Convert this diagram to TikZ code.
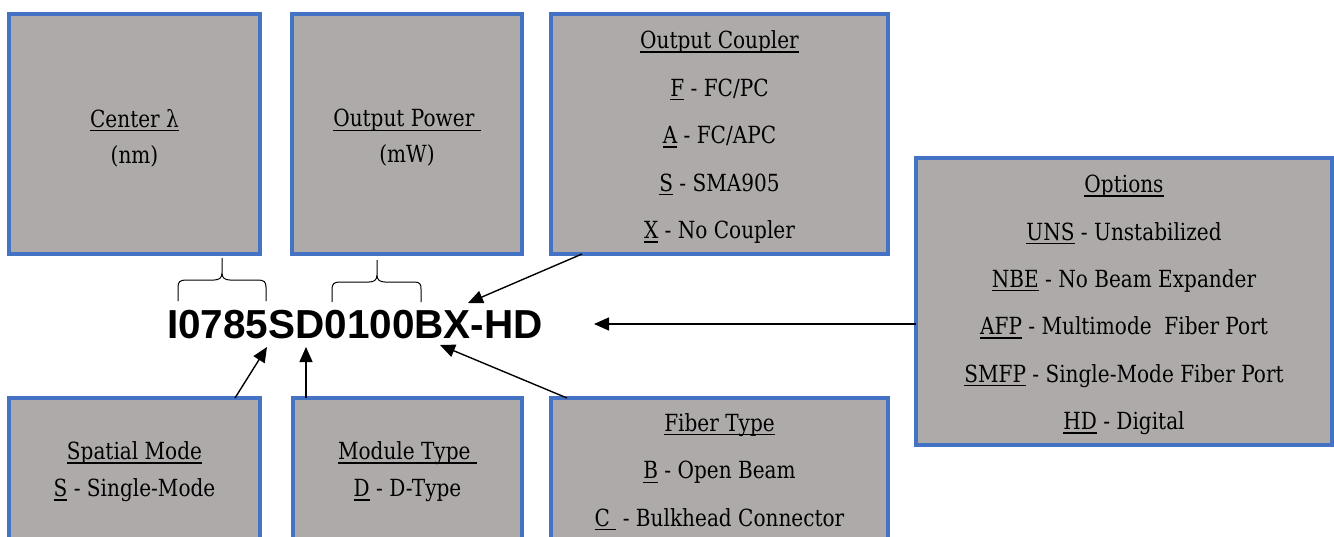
\documentclass[tikz,border=0pt]{standalone}
\usepackage{fontspec}
\setmainfont{DejaVu Serif}[FakeStretch=0.85]
\newfontfamily\codefont{Liberation Sans}
\usetikzlibrary{arrows.meta}
\definecolor{boxgray}{HTML}{AEAAAA}
\definecolor{boxblue}{HTML}{4472C4}
\newbox\myulbox
\newcommand{\myul}[1]{\setbox\myulbox\hbox{#1}\rlap{\rule[-0.17em]{\wd\myulbox}{0.06em}}\box\myulbox}
\begin{document}
\begin{tikzpicture}[x=1pt,y=-1pt,
  infobox/.style={draw=boxblue, fill=boxgray, line width=4pt, inner sep=0pt, outer sep=0pt, rectangle},
  boxtext/.style={align=center, inner sep=0pt, text=black},
  ptr/.style={line width=1.4pt, -{Triangle[length=15pt,width=13pt]}},
  bracepath/.style={line width=1pt}
]
\useasboundingbox (0,0) rectangle (1334,536);
\begin{scope}
\clip (0,0) rectangle (1334,536);
% top row
\node[infobox, minimum width=251pt, minimum height=240pt] (b1) at (134.5,134) {};
\node[infobox, minimum width=230pt, minimum height=240pt] (b2) at (407,134) {};
\node[infobox, minimum width=337pt, minimum height=240pt] (b3) at (719.5,134) {};
% options
\node[infobox, minimum width=416pt, minimum height=287pt] (opt) at (1124,301.5) {};
% bottom row
\node[infobox, minimum width=251pt, minimum height=202pt] (sp) at (134.5,499) {};
\node[infobox, minimum width=229pt, minimum height=202pt] (mod) at (407.5,499) {};
\node[infobox, minimum width=337pt, minimum height=202pt] (fib) at (719.5,499) {};
\end{scope}

% texts
\node[boxtext, font={\fontsize{23.6}{36}\selectfont}] (t1) at (134.5,138) {\myul{Center λ}\\(nm)};
\node[boxtext, font={\fontsize{23.6}{36}\selectfont}] (t2) at (407,138) {\myul{Output Power\ }\\(mW)};
\node[boxtext, font={\fontsize{23.6}{47.5}\selectfont}] (t3) at (719.5,137) {\myul{Output Coupler}\\\myul{F} - FC/PC\\\myul{A} - FC/APC\\\myul{S} - SMA905\\\myul{X} - No Coupler};
\node[boxtext, font={\fontsize{23.6}{47.4}\selectfont}] (topt) at (1124,305) {\myul{Options}\\\myul{UNS} - Unstabilized\\\myul{NBE} - No Beam Expander\\\myul{AFP} - Multimode\ \ Fiber Port\\\myul{SMFP} - Single-Mode Fiber Port\\\myul{HD} - Digital};
\node[boxtext, font={\fontsize{23.6}{37}\selectfont}] (tsp) at (134.5,472) {\myul{Spatial Mode}\\\myul{S} - Single-Mode};
\node[boxtext, font={\fontsize{23.6}{37}\selectfont}] (tmod) at (407.5,472) {\myul{Module Type\ }\\\myul{D} - D-Type};
\node[boxtext, font={\fontsize{23.6}{47.5}\selectfont}] (tfib) at (719.5,472) {\myul{Fiber Type}\\\myul{B} - Open Beam\\\myul{C\ } - Bulkhead Connector};

% part number
\node[inner sep=0pt, font={\codefont\bfseries\fontsize{40.5}{44}\selectfont}] (code) at (355,325) {I0785SD0100BX-HD};

% braces
\draw[bracepath] (178,301) -- (178,287) .. controls (178,282) and (180,280) .. (186,280) -- (214,280) .. controls (219,280) and (222,278) .. (222,273) -- (222,258)
  (222,273) .. controls (222,278) and (225,280) .. (230,280) -- (258,280) .. controls (264,280) and (266,282) .. (266,287) -- (266,301);
\draw[bracepath] (332,302) -- (332,289) .. controls (332,284) and (334,282) .. (340,282) -- (369,282) .. controls (374,282) and (377,280) .. (377,275) -- (377,260)
  (377,275) .. controls (377,280) and (380,282) .. (385,282) -- (414,282) .. controls (420,282) and (421,284) .. (421,289) -- (421,302);

% arrow tips
\coordinate (tipOC) at (468,303);
\coordinate (tipOpt) at (594,324);
\coordinate (tipFib) at (440,345);
\coordinate (tipSp) at (267,347);
\coordinate (tipMod) at (306,347);

\draw[ptr] ([xshift=31pt]b3.south west) -- (tipOC);
\draw[ptr] ([yshift=-22.5pt]opt.west) -- (tipOpt);
\draw[ptr] ([xshift=16pt]fib.north west) -- (tipFib);
\draw[ptr] ([xshift=226pt]sp.north west) -- (tipSp);
\draw[ptr] ([xshift=13pt]mod.north west) -- (tipMod);
\end{tikzpicture}
\end{document}
